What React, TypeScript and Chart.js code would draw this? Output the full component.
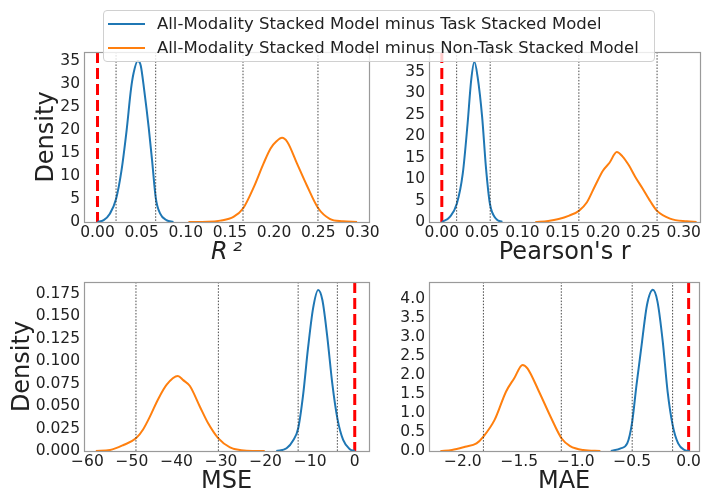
import React, { useEffect, useRef } from "react";
import { Chart, registerables } from "chart.js";

Chart.register(...registerables);

// ---------------- data ----------------
const LEGEND_LABELS = [
  "All-Modality Stacked Model minus Task Stacked Model",
  "All-Modality Stacked Model minus Non-Task Stacked Model",
];

// R^2 panel
const r2TaskX = [0.0, 0.007, 0.014, 0.021, 0.027, 0.033, 0.038, 0.041, 0.0455, 0.049, 0.053, 0.058, 0.062, 0.066, 0.071, 0.078, 0.086];
const r2TaskY = [0, 0.4, 1.8, 5, 11, 20, 29, 32.5, 35, 34, 28.5, 20.5, 13, 5.2, 1.8, 0.4, 0];
const r2NonTaskX = [0.103, 0.125, 0.139, 0.154, 0.165, 0.177, 0.188, 0.196, 0.203, 0.209, 0.215, 0.226, 0.237, 0.25, 0.263, 0.278, 0.294];
const r2NonTaskY = [0, 0.05, 0.3, 1.1, 3, 7.6, 12.7, 16, 17.6, 18.3, 17.4, 12.7, 8, 3, 0.7, 0.15, 0];
const r2CI = [0.021, 0.0659, 0.1648, 0.2497];

// Pearson's r panel
const rTaskX = [0.0, 0.01, 0.0187, 0.026, 0.032, 0.0364, 0.0404, 0.0444, 0.05, 0.0547, 0.0596, 0.067, 0.075];
const rTaskY = [0, 1.2, 4.3, 11.3, 23, 33, 37.3, 33.8, 24.5, 12.8, 4.3, 0.8, 0];
const rNonTaskX = [0.116, 0.132, 0.145, 0.158, 0.17, 0.18, 0.19, 0.2, 0.208, 0.217, 0.224, 0.232, 0.24, 0.249, 0.259, 0.267, 0.283, 0.304, 0.316];
const rNonTaskY = [0, 0.25, 0.7, 1.5, 2.6, 4.6, 8.4, 12, 13.8, 16.3, 15.3, 13.2, 10.5, 7.8, 4.7, 2.6, 0.8, 0.15, 0];
const rCI = [0.0184, 0.06, 0.17, 0.267];

// MSE panel
const mseTaskX = [-17.6, -15.3, -13.8, -12.7, -11.6, -10.5, -9.35, -8.2, -7.25, -6.2, -5.0, -3.9, -2.6, -1.1, 0];
const mseTaskY = [0, 0.003, 0.012, 0.025, 0.062, 0.114, 0.159, 0.1795, 0.168, 0.129, 0.0736, 0.0364, 0.0123, 0.002, 0];
const mseNonTaskX = [-58.1, -54.9, -51.9, -49.1, -47.5, -46.0, -44.1, -42.2, -39.7, -38.5, -37.0, -34.75, -32.9, -30.6, -28.0, -24.3, -20.2];
const mseNonTaskY = [0, 0.0011, 0.0067, 0.0141, 0.024, 0.038, 0.058, 0.074, 0.0836, 0.079, 0.0724, 0.0494, 0.0309, 0.0141, 0.0041, 0.0004, 0];
const mseCI = [-49.1, -30.6, -12.7, -3.9];

// MAE panel
const maeTaskX = [-0.689, -0.602, -0.544, -0.5, -0.462, -0.413, -0.369, -0.317, -0.276, -0.229, -0.186, -0.142, -0.093, -0.035, 0.009];
const maeTaskY = [0, 0.07, 0.2, 0.77, 1.74, 2.88, 3.85, 4.25, 3.94, 2.88, 1.56, 0.69, 0.2, 0.026, 0];
const maeNonTaskX = [-2.199, -2.097, -1.98, -1.879, -1.818, -1.719, -1.617, -1.545, -1.471, -1.428, -1.326, -1.224, -1.125, -1.05, -0.934, -0.782];
const maeNonTaskY = [0, 0.026, 0.11, 0.2, 0.38, 0.82, 1.57, 1.92, 2.27, 2.18, 1.57, 0.91, 0.33, 0.13, 0.026, 0];
const maeCI = [-1.818, -1.128, -0.5, -0.142];

// ticks
const scoreXTicks = [0, 0.05, 0.1, 0.15, 0.2, 0.25, 0.3];
const scoreXLabels = ["0.00", "0.05", "0.10", "0.15", "0.20", "0.25", "0.30"];
const scoreYTicks = [0, 5, 10, 15, 20, 25, 30, 35];
const scoreYLabels = ["0", "5", "10", "15", "20", "25", "30", "35"];
const mseXTicks = [-60, -50, -40, -30, -20, -10, 0];
const mseXLabels = ["\u221260", "\u221250", "\u221240", "\u221230", "\u221220", "\u221210", "0"];
const mseYTicks = [0, 0.025, 0.05, 0.075, 0.1, 0.125, 0.15, 0.175];
const mseYLabels = ["0.000", "0.025", "0.050", "0.075", "0.100", "0.125", "0.150", "0.175"];
const maeXTicks = [-2.0, -1.5, -1.0, -0.5, 0.0];
const maeXLabels = ["\u22122.0", "\u22121.5", "\u22121.0", "\u22120.5", "0.0"];
const maeYTicks = [0, 0.5, 1, 1.5, 2, 2.5, 3, 3.5, 4];
const maeYLabels = ["0.0", "0.5", "1.0", "1.5", "2.0", "2.5", "3.0", "3.5", "4.0"];

const PANELS = [
  { xTitle: "R\u2009\u00b2", italic: true, yTitle: "Density", taskX: r2TaskX, taskY: r2TaskY, nonX: r2NonTaskX, nonY: r2NonTaskY, ci: r2CI,
    xMin: -0.0153, xMax: 0.3075, yMax: 36.97, xTicks: scoreXTicks, xLabels: scoreXLabels, yTicks: scoreYTicks, yLabels: scoreYLabels },
  { xTitle: "Pearson's r", italic: false, yTitle: "", taskX: rTaskX, taskY: rTaskY, nonX: rNonTaskX, nonY: rNonTaskY, ci: rCI,
    xMin: -0.0159, xMax: 0.3208, yMax: 39.6, xTicks: scoreXTicks, xLabels: scoreXLabels, yTicks: scoreYTicks, yLabels: scoreYLabels },
  { xTitle: "MSE", italic: false, yTitle: "Density", taskX: mseTaskX, taskY: mseTaskY, nonX: mseNonTaskX, nonY: mseNonTaskY, ci: mseCI,
    xMin: -60.76, xMax: 3.2, yMax: 0.1884, xTicks: mseXTicks, xLabels: mseXLabels, yTicks: mseYTicks, yLabels: mseYLabels },
  { xTitle: "MAE", italic: false, yTitle: "", taskX: maeTaskX, taskY: maeTaskY, nonX: maeNonTaskX, nonY: maeNonTaskY, ci: maeCI,
    xMin: -2.3, xMax: 0.093, yMax: 4.456, xTicks: maeXTicks, xLabels: maeXLabels, yTicks: maeYTicks, yLabels: maeYLabels },
];

// ---------------- layout / style ----------------
const W = 704;
const H = 496;
const LAYOUTS = [
  { padding: { left: 0, top: 52, right: 335, bottom: 226 }, yWidth: 84, xHeight: 48, yTitlePad: 32, xTitlePad: 2.5 },
  { padding: { left: 372, top: 52, right: 1, bottom: 226 }, yWidth: 57, xHeight: 48, yTitlePad: 0, xTitlePad: 2.5 },
  { padding: { left: 0, top: 282, right: 335, bottom: 0 }, yWidth: 84, xHeight: 45, yTitlePad: 8.5, xTitlePad: 0 },
  { padding: { left: 372, top: 282, right: 1, bottom: 0 }, yWidth: 57, xHeight: 45, yTitlePad: 0, xTitlePad: 0 },
];
const BLUE = "#1f77b4";
const ORANGE = "#ff7f0e";
const FONT = "'DejaVu Sans', sans-serif";
const TEXT = "#222";
const TICK_SIZE = 15.5;

const framePlugin = {
  id: "frame",
  afterDatasetsDraw(chart: any) {
    const { ctx, chartArea } = chart;
    ctx.save();
    ctx.strokeStyle = "#9a9a9a";
    ctx.lineWidth = 1.2;
    ctx.strokeRect(
      Math.round(chartArea.left) + 0.5,
      Math.round(chartArea.top) + 0.5,
      Math.round(chartArea.right - chartArea.left),
      Math.round(chartArea.bottom - chartArea.top)
    );
    ctx.restore();
  },
};

function labelFor(ticks: number[], labels: string[], v: number) {
  const i = ticks.findIndex((t) => Math.abs(t - v) < 1e-9);
  return i >= 0 ? labels[i] : "";
}

function Panel({ idx }: { idx: number }) {
  const ref = useRef<HTMLCanvasElement>(null);
  useEffect(() => {
    const p = PANELS[idx];
    const L = LAYOUTS[idx];
    const vline = (x: number) => [
      { x, y: p.yMax },
      { x, y: 0 },
    ];
    const datasets: any[] = [
      ...p.ci.map((v) => ({
        data: vline(v),
        borderColor: "rgba(40,40,40,0.85)",
        borderWidth: 1,
        borderDash: [1.5, 1.6],
        pointRadius: 0,
      })),
      {
        data: p.taskX.map((x, i) => ({ x, y: p.taskY[i] })),
        borderColor: BLUE,
        borderWidth: 2,
        pointRadius: 0,
        cubicInterpolationMode: "monotone",
      },
      {
        data: p.nonX.map((x, i) => ({ x, y: p.nonY[i] })),
        borderColor: ORANGE,
        borderWidth: 2,
        pointRadius: 0,
        cubicInterpolationMode: "monotone",
      },
      {
        data: vline(0),
        borderColor: "#ff0000",
        borderWidth: 3,
        borderDash: [11, 5],
        pointRadius: 0,
      },
    ];
    const chart = new Chart(ref.current as HTMLCanvasElement, {
      type: "line",
      data: { datasets },
      options: {
        responsive: false,
        animation: false,
        layout: { padding: L.padding },
        plugins: { legend: { display: false }, tooltip: { enabled: false } },
        scales: {
          x: {
            type: "linear",
            min: p.xMin,
            max: p.xMax,
            grid: { display: false, drawTicks: false },
            border: { display: false },
            afterBuildTicks: (s: any) => {
              s.ticks = p.xTicks.map((v) => ({ value: v }));
            },
            afterFit: (s: any) => {
              s.height = L.xHeight;
            },
            ticks: {
              autoSkip: false,
              maxRotation: 0,
              minRotation: 0,
              padding: 3,
              color: TEXT,
              font: { family: FONT, size: TICK_SIZE, lineHeight: 1 },
              callback: (v: any) => labelFor(p.xTicks, p.xLabels, Number(v)),
            },
            title: {
              display: true,
              text: p.xTitle,
              color: TEXT,
              padding: { top: 0, bottom: L.xTitlePad },
              font: { family: FONT, size: 24, style: p.italic ? "italic" : "normal", lineHeight: 1.2 },
            },
          },
          y: {
            type: "linear",
            min: 0,
            max: p.yMax,
            grid: { display: false, drawTicks: false },
            border: { display: false },
            afterBuildTicks: (s: any) => {
              s.ticks = p.yTicks.map((v) => ({ value: v }));
            },
            afterFit: (s: any) => {
              s.width = L.yWidth;
            },
            ticks: {
              autoSkip: false,
              padding: 4,
              color: TEXT,
              font: { family: FONT, size: TICK_SIZE, lineHeight: 1 },
              callback: (v: any) => labelFor(p.yTicks, p.yLabels, Number(v)),
            },
            title: {
              display: !!p.yTitle,
              text: p.yTitle,
              color: TEXT,
              padding: { top: L.yTitlePad, bottom: 0 },
              font: { family: FONT, size: 24, lineHeight: 1.2 },
            },
          },
        },
      } as any,
      plugins: [framePlugin],
    });
    return () => chart.destroy();
  }, [idx]);
  return (
    <canvas
      ref={ref}
      width={W}
      height={H}
      style={{ position: "absolute", left: 0, top: 0, width: W, height: H }}
    />
  );
}

function Legend() {
  const colors = [BLUE, ORANGE];
  const rowCenters = [13.3, 36.7];
  return (
    <div
      style={{
        position: "absolute",
        left: 103,
        top: 10,
        width: 552,
        height: 52,
        boxSizing: "border-box",
        border: "1px solid #d0d0d0",
        borderRadius: 4,
        background: "rgba(255,255,255,0.8)",
        fontFamily: FONT,
        fontSize: 16.5,
        color: TEXT,
        zIndex: 5,
      }}
    >
      {LEGEND_LABELS.map((t, i) => (
        <div key={i} style={{ position: "absolute", left: 0, top: rowCenters[i] - 11, height: 22, width: 550 }}>
          <div
            style={{
              position: "absolute",
              left: 4,
              top: 10,
              width: 37,
              height: 2,
              background: colors[i],
            }}
          />
          <div style={{ position: "absolute", left: 53, top: 0, lineHeight: "22px", whiteSpace: "nowrap" }}>{t}</div>
        </div>
      ))}
    </div>
  );
}

export default function App() {
  return (
    <div style={{ position: "fixed", left: 0, top: 0, width: W, height: H, background: "#fff", overflow: "hidden" }}>
      {PANELS.map((_, i) => (
        <Panel key={i} idx={i} />
      ))}
      <Legend />
    </div>
  );
}
